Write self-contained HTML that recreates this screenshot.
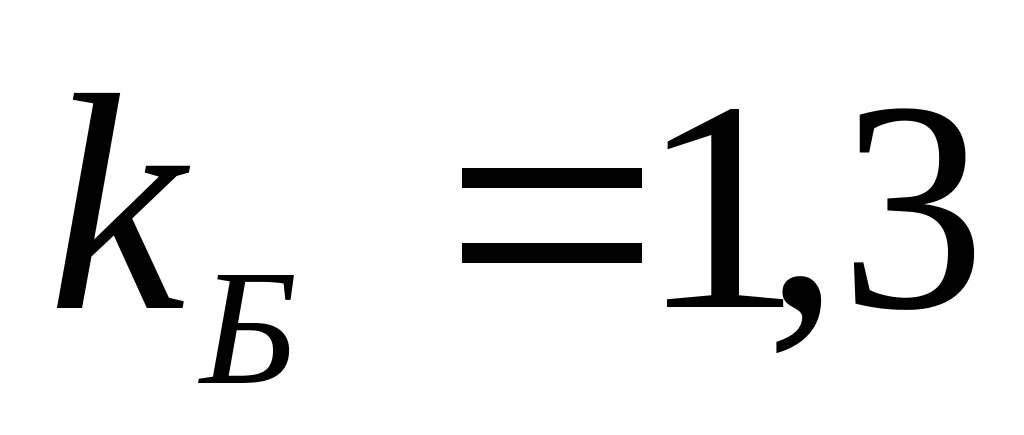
<!DOCTYPE html>
<html><head><meta charset="utf-8"><style>html,body{margin:0;padding:0;background:#fff;width:1024px;height:435px;overflow:hidden}</style></head>
<body>
<svg width="1024" height="435" viewBox="0 0 1024 435" xmlns="http://www.w3.org/2000/svg">
<text x="48" y="308" font-family="Liberation Serif, serif" font-style="italic" font-size="310">k</text>
<text x="200" y="383" font-family="Liberation Serif, serif" font-style="italic" font-size="165">Б</text>
<rect x="462" y="168" width="180" height="20" fill="#000"/>
<rect x="462" y="243" width="180" height="20" fill="#000"/>
<text x="0" y="307" font-family="Liberation Serif, serif" font-size="300" transform="translate(638,0) scale(1.1,1)">1</text>
<text x="765" y="307" font-family="Liberation Serif, serif" font-size="300">,</text>
<text x="0" y="307" font-family="Liberation Serif, serif" font-size="300" transform="translate(840,0) scale(0.97,1)">3</text>
</svg>
</body></html>
